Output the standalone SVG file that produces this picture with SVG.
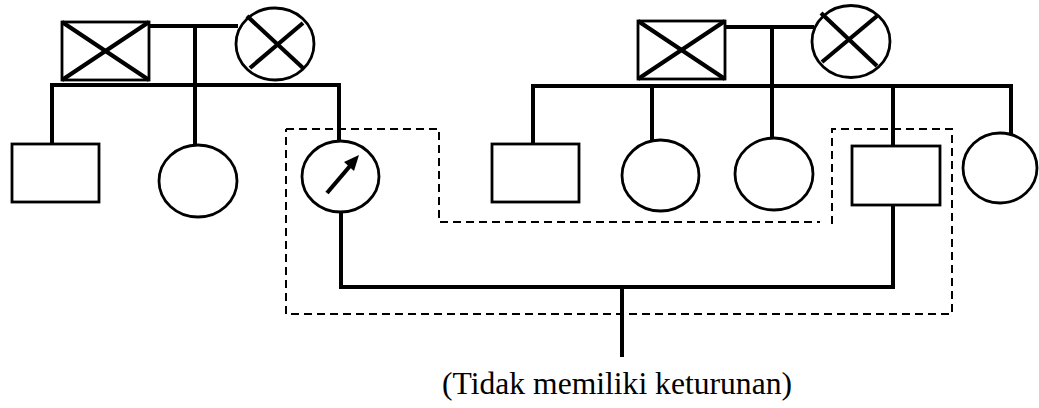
<svg xmlns="http://www.w3.org/2000/svg" width="1039" height="408" viewBox="0 0 1039 408">
<style>
.shape{fill:#fff;stroke:#000;stroke-width:2.8}
.cross{stroke:#000;stroke-width:4.2;stroke-linecap:butt}
.line{fill:none;stroke:#000;stroke-width:4;stroke-linecap:square;stroke-linejoin:miter}
.dash{fill:none;stroke:#000;stroke-width:2;stroke-dasharray:8 5}
.label{font-family:"Liberation Serif","Times New Roman",serif;font-size:32px;fill:#000}
</style>
<rect width="1039" height="408" fill="#fff"/>
<g id="connectors">
  <path class="line" d="M149,26 H236"/>
  <path class="line" d="M195,26 V145"/>
  <path class="line" d="M52,85 H339"/>
  <path class="line" d="M52,85 V144"/>
  <path class="line" d="M339,85 V141"/>
  <path class="line" d="M725,27 H812"/>
  <path class="line" d="M772,27 V138"/>
  <path class="line" d="M533,86 H1011"/>
  <path class="line" d="M533,86 V144"/>
  <path class="line" d="M652,86 V140"/>
  <path class="line" d="M893,86 V146"/>
  <path class="line" d="M1011,86 V133"/>
  <path class="line" d="M341,212 V287 H893 V203"/>
  <path class="line" d="M622,287 V355"/>
</g>
<g id="group-box">
  <path class="dash" d="M286,129 H439 V222 H820 M832,224 V129 H952 V314 H286 V129"/>
</g>
<g id="gf-left">
  <rect class="shape" x="62" y="22" width="87" height="58"/>
  <line class="cross" x1="62" y1="22" x2="149" y2="80"/>
  <line class="cross" x1="149" y1="22" x2="62" y2="80"/>
</g>
<g id="gm-left">
  <ellipse class="shape" cx="275" cy="44" rx="39" ry="36"/>
  <line class="cross" x1="247" y1="16" x2="303" y2="68"/>
  <line class="cross" x1="303" y1="23" x2="250" y2="68"/>
</g>
<g id="left-son">
  <rect class="shape" x="12" y="144" width="87" height="58"/>
</g>
<g id="left-daughter">
  <ellipse class="shape" cx="198" cy="181" rx="39" ry="36"/>
</g>
<g id="proband">
  <ellipse class="shape" cx="340.5" cy="176.5" rx="38.5" ry="35.5"/>
  <line x1="327" y1="193" x2="350" y2="166" stroke="#000" stroke-width="4.2"/>
  <polygon points="359,155 344,162 354,171" fill="#000"/>
</g>
<g id="gf-right">
  <rect class="shape" x="638" y="21" width="87" height="58"/>
  <line class="cross" x1="638" y1="21" x2="725" y2="79"/>
  <line class="cross" x1="725" y1="21" x2="638" y2="79"/>
</g>
<g id="gm-right">
  <ellipse class="shape" cx="851" cy="41.5" rx="39" ry="36"/>
  <line class="cross" x1="821" y1="13" x2="877" y2="66"/>
  <line class="cross" x1="877" y1="16" x2="822" y2="62"/>
</g>
<g id="right-son">
  <rect class="shape" x="492" y="144" width="87" height="58"/>
</g>
<g id="right-daughter-1">
  <ellipse class="shape" cx="660.5" cy="175.5" rx="38.5" ry="35.5"/>
</g>
<g id="right-daughter-2">
  <ellipse class="shape" cx="774" cy="174" rx="39" ry="36"/>
</g>
<g id="husband">
  <rect class="shape" x="852" y="146" width="88" height="59"/>
</g>
<g id="right-daughter-3">
  <ellipse class="shape" cx="1000" cy="168" rx="37" ry="35"/>
</g>
<g id="caption">
  <text class="label" x="617" y="394" text-anchor="middle" textLength="350" lengthAdjust="spacingAndGlyphs">(Tidak memiliki keturunan)</text>
</g>
</svg>
